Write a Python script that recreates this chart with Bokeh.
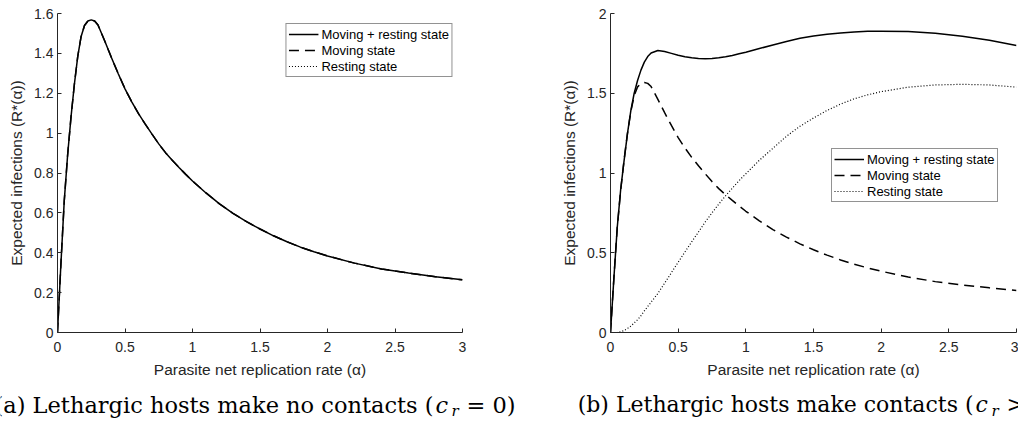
from bokeh.plotting import figure
from bokeh.models import Range1d, FixedTicker, Legend, LegendItem
from bokeh.layouts import column, row
from bokeh.embed import file_html
from bokeh.resources import INLINE
from bokeh.core.properties import value

# ---------------- data ----------------
alpha = [0, 0.025, 0.05, 0.075, 0.1, 0.125, 0.15, 0.175, 0.2, 0.225, 0.25, 0.275, 0.3,
         0.35, 0.4, 0.45, 0.5,
         0.55, 0.6, 0.65, 0.7, 0.75, 0.8, 0.85, 0.9, 0.95, 1.0,
         1.1, 1.2, 1.3, 1.4, 1.5, 1.6, 1.7, 1.8, 1.9, 2.0,
         2.2, 2.4, 2.6, 2.8, 3.0]

# panel (a): lethargic hosts make no contacts
total_a = [0, 0.34, 0.66, 0.89, 1.08, 1.245, 1.385, 1.485, 1.54, 1.562, 1.568, 1.562, 1.542,
           1.462, 1.378, 1.298, 1.222,
           1.157, 1.098, 1.045, 0.995, 0.946, 0.902, 0.864, 0.828, 0.793, 0.760,
           0.700, 0.645, 0.598, 0.556, 0.519, 0.485, 0.455, 0.428, 0.405, 0.384,
           0.348, 0.319, 0.298, 0.280, 0.264]
moving_a = [0, 0.34, 0.66, 0.89, 1.08, 1.245, 1.385, 1.485, 1.54, 1.562, 1.568, 1.562, 1.542,
            1.462, 1.378, 1.298, 1.222,
            1.157, 1.098, 1.045, 0.995, 0.946, 0.902, 0.864, 0.828, 0.793, 0.760,
            0.700, 0.645, 0.598, 0.556, 0.519, 0.485, 0.455, 0.428, 0.405, 0.384,
            0.348, 0.319, 0.298, 0.280, 0.264]
resting_a = [0, 0, 0, 0, 0, 0, 0, 0, 0, 0, 0, 0, 0, 0, 0, 0, 0,
             0, 0, 0, 0, 0, 0, 0, 0, 0, 0,
             0, 0, 0, 0, 0, 0, 0, 0, 0, 0,
             0, 0, 0, 0, 0]

# panel (b): lethargic hosts make contacts
total_b = [0, 0.34, 0.66, 0.895, 1.075, 1.245, 1.39, 1.50, 1.58, 1.645, 1.695, 1.73, 1.752,
           1.768, 1.762, 1.75, 1.738,
           1.729, 1.722, 1.718, 1.716, 1.718, 1.722, 1.729, 1.737, 1.747, 1.757,
           1.780, 1.803, 1.825, 1.845, 1.859, 1.870, 1.878, 1.884, 1.888, 1.889,
           1.887, 1.876, 1.857, 1.832, 1.80]
moving_b = [0, 0.34, 0.66, 0.89, 1.08, 1.245, 1.385, 1.485, 1.54, 1.562, 1.568, 1.562, 1.542,
            1.462, 1.378, 1.298, 1.222,
            1.157, 1.098, 1.045, 0.995, 0.946, 0.902, 0.864, 0.828, 0.793, 0.760,
            0.700, 0.645, 0.598, 0.556, 0.519, 0.485, 0.455, 0.428, 0.405, 0.384,
            0.348, 0.319, 0.298, 0.280, 0.264]
resting_b = [0, 0.0, 0.0, 0.005, 0.012, 0.025, 0.04, 0.06, 0.08, 0.105, 0.135, 0.163, 0.19,
             0.245, 0.31, 0.375, 0.44,
             0.505, 0.568, 0.63, 0.693, 0.75, 0.805, 0.857, 0.905, 0.952, 0.995,
             1.08, 1.155, 1.23, 1.293, 1.345, 1.392, 1.432, 1.465, 1.49, 1.51,
             1.538, 1.552, 1.556, 1.552, 1.538]

series_labels = ["Moving + resting state", "Moving state", "Resting state"]

x_ticks = [0, 0.5, 1, 1.5, 2, 2.5, 3]
x_tick_labels = ["0", "0.5", "1", "1.5", "2", "2.5", "3"]
y_ticks_a = [0, 0.2, 0.4, 0.6, 0.8, 1, 1.2, 1.4, 1.6]
y_tick_labels_a = ["0", "0.2", "0.4", "0.6", "0.8", "1", "1.2", "1.4", "1.6"]
y_ticks_b = [0, 0.5, 1, 1.5, 2]
y_tick_labels_b = ["0", "0.5", "1", "1.5", "2"]

x_label = "Parasite net replication rate (α)"
y_label = "Expected infections (R*(α))"

caption_a = ["(a) Lethargic hosts make no contacts (", "c", "r", "= 0)"]
caption_b = ["(b) Lethargic hosts make contacts (", "c", "r", "> 0)"]

# ---------------- styling ----------------
INK = "#262626"
SANS = "Liberation Sans"
SERIF = "DejaVu Serif"
ROW_H = 392
FRAME_TOP = 13
FRAME_H = 319


def make_panel(total, moving, resting, yticks, ylabels, ymax, left, fw, right, legend_loc):
    p = figure(width=left + fw + right, height=ROW_H,
               x_range=Range1d(0, 3), y_range=Range1d(0, ymax),
               output_backend="svg", toolbar_location=None,
               min_border_left=left, min_border_right=right,
               min_border_top=FRAME_TOP, min_border_bottom=ROW_H - FRAME_TOP - FRAME_H)
    p.outline_line_color = None
    p.grid.visible = False
    p.background_fill_color = "white"
    p.border_fill_color = "white"

    r_tot = p.line(alpha, total, line_color="black", line_width=1.5)
    r_mov = p.line(alpha, moving, line_color="black", line_width=1.5, line_dash="10 6")
    r_res = p.line(alpha, resting, line_color="black", line_width=1.2, line_dash="1 2")

    p.xaxis.ticker = FixedTicker(ticks=x_ticks)
    p.xaxis.major_label_overrides = dict(zip(x_ticks, x_tick_labels))
    p.yaxis.ticker = FixedTicker(ticks=yticks)
    p.yaxis.major_label_overrides = dict(zip(yticks, ylabels))
    for ax in (p.xaxis[0], p.yaxis[0]):
        ax.axis_line_color = INK
        ax.axis_line_width = 1
        ax.major_tick_line_color = INK
        ax.major_tick_in = 4
        ax.major_tick_out = 0
        ax.minor_tick_line_color = None
        ax.major_label_text_font = SANS
        ax.major_label_text_font_size = "14px"
        ax.major_label_text_color = INK
        ax.axis_label_text_font = SANS
        ax.axis_label_text_font_size = "15.5px"
        ax.axis_label_text_font_style = "normal"
        ax.axis_label_text_color = INK
    p.xaxis.axis_label = x_label
    p.yaxis.axis_label = y_label
    p.xaxis.major_label_standoff = 9
    p.xaxis.axis_label_standoff = 6
    p.yaxis.major_label_standoff = 4
    p.yaxis.axis_label_standoff = 6

    legend = Legend(items=[LegendItem(label=series_labels[0], renderers=[r_tot]),
                           LegendItem(label=series_labels[1], renderers=[r_mov]),
                           LegendItem(label=series_labels[2], renderers=[r_res])],
                    location=legend_loc)
    legend.label_text_font = SANS
    legend.label_text_font_size = "13px"
    legend.label_text_color = "black"
    legend.glyph_width = 30
    legend.glyph_height = 16
    legend.label_height = 16
    legend.label_standoff = 3
    legend.spacing = 0
    legend.padding = 2
    legend.margin = 10
    legend.border_line_color = INK
    legend.border_line_width = 1
    legend.background_fill_color = "white"
    legend.background_fill_alpha = 1
    p.add_layout(legend, "center")
    return p


pa = make_panel(total_a, moving_a, resting_a, y_ticks_a, y_tick_labels_a, 1.6,
                57, 405, 88, "top_right")
pb = make_panel(total_b, moving_b, resting_b, y_ticks_b, y_tick_labels_b, 2.0,
                60, 406, 2, (221, 130))
pb.legend[0].margin = 0

# ---------------- captions ----------------
CAP_H = 30
cap = figure(width=1018, height=CAP_H, x_range=Range1d(0, 1018), y_range=Range1d(CAP_H, 0),
             x_axis_type=None, y_axis_type=None, output_backend="svg",
             toolbar_location=None, min_border=0)
cap.title.visible = False
cap.outline_line_color = None
cap.grid.visible = False

mid = 12


def caption(parts, x_paren, size):
    cap.text(x=[x_paren], y=[mid], text=[parts[0]], text_align="right",
             text_baseline="middle", text_font=value(SERIF), text_font_size=size,
             text_color="black")
    cap.text(x=[x_paren + 2], y=[mid], text=[parts[1]], text_align="left",
             text_baseline="middle", text_font=value(SERIF), text_font_size=size,
             text_font_style="italic", text_color="black")
    cap.text(x=[x_paren + 18], y=[mid + 6], text=[parts[2]], text_align="left",
             text_baseline="middle", text_font=value(SERIF), text_font_size="15px",
             text_font_style="italic", text_color="black")
    cap.text(x=[x_paren + 33], y=[mid], text=[parts[3]], text_align="left",
             text_baseline="middle", text_font=value(SERIF), text_font_size=size,
             text_color="black")


caption(caption_a, 433, "22.5px")
caption(caption_b, 973, "22px")

layout = column(row(pa, pb), cap)
open("out.html", "w").write(file_html(layout, INLINE))
